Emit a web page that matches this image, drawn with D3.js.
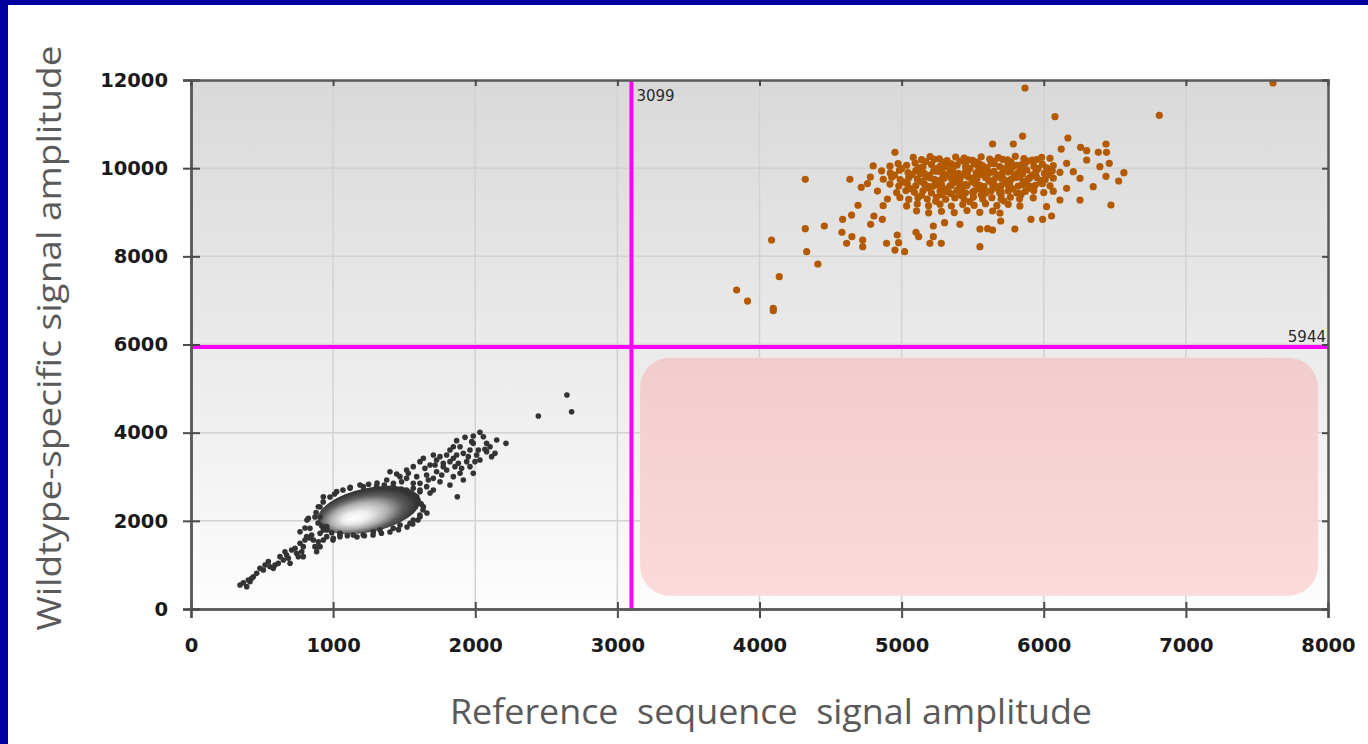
<!DOCTYPE html>
<html>
<head>
<meta charset="utf-8">
<script src="https://cdn.jsdelivr.net/npm/d3@7"></script>
<style>
  body { margin:0; background:#fff; }
  .canvas { width:1368px; height:744px; }
  .tick text { font-family:"DejaVu Sans", sans-serif; font-weight:bold; font-size:19.5px; fill:#1a1a1a; }
</style>
</head>
<body>
<div class="canvas"></div>
<script>
//Data (signal amplitudes)
var xTicks = [0,1000,2000,3000,4000,5000,6000,7000,8000];
var yTicks = [0,2000,4000,6000,8000,10000,12000];
var xThreshold = 3099,
    yThreshold = 5944;
//empty double-negative quadrant box, in amplitude units
var boxX = [3160, 7930],
    boxY = [300, 5700];
//dense wildtype-negative core (centre and half widths)
var coreCenter = [1252, 2246],
    coreRadius = [368, 500];

//wildtype-positive droplets (orange)
var positiveDroplets = [
  [6079,11168],[6813,11198],[5851,10729],[5640,10548],[5786,10548],[6170,10684],[4953,10359],[6438,10548],
  [6259,10472],[6123,10434],[6302,10397],[6384,10359],[6442,10359],[6461,10109],[6564,9898],[6438,9814],
  [6527,9709],[6473,9164],[6255,9278],[6055,8915],[5992,8839],[5910,8839],[5797,8620],[5697,8801],
  [5640,8597],[5605,8627],[5551,8620],[5551,8219],[4322,9746],[4636,9746],[4716,9565],[4693,9157],
  [4585,8839],[4648,8937],[4322,8627],[4456,8688],[4085,8370],[4332,8105],[4411,7826],[4139,7538],
  [3839,7236],[3916,6986],[4097,6820],[4097,6767],[4580,8544],[4650,8446],[4613,8295],[4726,8370],
  [4726,8219],[4782,8726],[4805,8915],[4864,8839],[4894,8295],[4953,8143],[5021,8105],[4969,8484],
  [4979,8310],[5101,8544],[5120,8446],[5199,8295],[5223,8446],[5279,8295],[5223,8688],[5302,8763],
  [5410,8726],[5868,11818],[7613,11932],
  [6161,10109],[6208,9920],[6348,9580],[6161,9542],[6255,9769],[6395,10034],[6302,10185],[6114,9278],[6020,9126],
  [4800,10050],[4780,9800],[4830,9480],[4900,9300],[4870,9150],[4760,9650],
  [5082,10243],[5140,10193],[5200,10263],[5265,10213],[5320,10173],[5380,10253],[5440,10228],[5500,10178],
  [5560,10258],[5620,10203],[5680,10238],[5745,10188],[5800,10268],[5860,10218],[5920,10183],[5985,10248],[6044,10223],
  [4918,10046],[4975,10106],[5035,10066],[5095,10116],[5150,10031],[5210,10081],[5270,10041],[5330,10111],
  [5390,10071],[5450,10026],[5510,10096],[5570,10056],[5630,10106],[5690,10036],[5750,10086],[5810,10066],
  [5870,10116],[5930,10046],[5990,10091],[6067,10061],
  [4859,9940],[4920,9890],[4985,9955],[5045,9900],[5100,9945],[5160,9880],[5225,9935],[5285,9905],
  [5340,9960],[5400,9885],[5465,9930],[5525,9895],[5580,9950],[5640,9910],[5705,9875],[5765,9945],
  [5820,9900],[5880,9960],[5945,9915],[6005,9880],[6060,9940],[6114,9905],
  [4871,9749],[4930,9794],[4990,9739],[5050,9784],[5110,9754],[5170,9799],[5230,9744],[5290,9789],
  [5350,9764],[5410,9734],[5470,9799],[5530,9759],[5590,9789],[5650,9739],[5710,9779],[5770,9749],
  [5830,9804],[5890,9759],[5950,9789],[6010,9744],[6067,9774],
  [4918,9638],[4980,9593],[5040,9648],[5100,9603],[5160,9643],[5220,9588],[5280,9633],[5340,9598],
  [5400,9653],[5460,9608],[5520,9638],[5580,9583],[5640,9628],[5700,9603],[5760,9648],[5820,9593],
  [5880,9633],[5940,9613],[5990,9648],[6044,9598],
  [4965,9447],[5030,9492],[5090,9452],[5150,9487],[5210,9437],[5270,9482],[5330,9457],[5390,9497],
  [5450,9442],[5510,9477],[5570,9452],[5630,9492],[5690,9447],[5750,9482],[5810,9437],[5870,9472],
  [5930,9492],[6000,9447],[6067,9477],
  [4988,9335],[5050,9290],[5115,9330],[5180,9300],[5245,9340],[5310,9295],[5375,9325],[5440,9290],
  [5505,9345],[5570,9300],[5635,9330],[5700,9295],[5765,9340],[5830,9305],[5926,9325],
  [5035,9144],[5110,9189],[5190,9149],[5270,9184],[5350,9139],[5430,9174],[5510,9154],[5590,9194],
  [5670,9149],[5750,9179],[5832,9144],
  [5105,9033],[5190,8988],[5280,9023],[5370,8993],[5460,9038],[5550,8998],[5640,9028],[5692,8983],
  [5170,10150],[5290,10140],[5410,10160],[5530,10135],[5650,10155],[5770,10145],[5890,10160],
  [5000,9990],[5120,10005],[5240,9985],[5360,10000],[5480,9995],[5600,10010],[5720,9985],[5840,10000],[5960,9990],
  [4950,9840],[5075,9855],[5195,9835],[5315,9850],[5435,9845],[5555,9860],[5675,9835],[5795,9850],[5915,9840],[6035,9855],
  [5015,9685],[5135,9700],[5255,9680],[5375,9695],[5495,9690],[5615,9705],[5735,9680],[5855,9695],[5975,9685],
  [5060,9535],[5180,9550],[5300,9530],[5420,9545],[5540,9540],[5660,9555],[5780,9530],[5900,9545],
  [5140,9385],[5280,9400],[5420,9380],[5560,9395],[5700,9390],[5840,9400],
  [5350,10100],[5450,10110],[5550,10095],[5650,10105],[5750,10100],[5850,10090],
  [5250,9925],[5350,9930],[5450,9920],[5550,9935],[5650,9925],[5750,9915],[5850,9930],
  [5200,9780],[5300,9770],[5400,9785],[5500,9775],[5600,9780],[5700,9770],[5800,9785],[5900,9775],
  [5250,9620],[5350,9615],[5450,9625],[5550,9610],[5650,9620],[5750,9615],[5850,9625],
  [5300,9460],[5400,9470],[5500,9455],[5600,9465],[5700,9460],
  [5230,10200],[5470,10190],[5710,10200],[5950,10195],
  [5300,10030],[5540,10040],[5780,10025],[6020,10010],
  [5130,9880],[5370,9875],[5610,9885],[5850,9870],
  [5260,9720],[5500,9730],[5740,9715],[5980,9725],
  [5190,9580],[5430,9590],[5670,9575],[5910,9585],
  [5350,9420],[5590,9430],[5830,9425],
  [5240,9250],[5480,9240],[5720,9255]
];

//wildtype-negative droplets (dark)
var negativeDroplets = [
  [345,544],[392,507],[415,620],[439,733],[403,658],[485,922],[521,998],[556,960],[579,922],[614,1036],
  [626,1187],[673,1225],[697,1036],[708,1338],[743,1263],[767,1490],[779,1300],[814,1641],[837,1830],
  [861,1565],[884,1300],[908,1414],[826,2057],[908,1716],[931,1792],[955,1641],[1001,1603],[1048,1641],
  [1212,1679],[1330,1792],[1471,1905],[1564,2019],[1611,2094],[1611,2397],[1635,2321],[1588,2548],
  [1517,2699],[1423,2760],[1306,2790],[1212,2775],[1119,2737],[1025,2662],[931,2548],[896,2321],
  [908,2094],[955,1868],[1048,1716],[1142,1679],[1283,1754],[1423,1830],[1541,1943],
  [368,597],[427,696],[462,809],[509,885],[544,1074],[591,998],[650,1112],[685,1149],[732,1376],
  [755,1187],[790,1414],[802,1565],[849,1679],[872,1414],[896,1527],[790,1187],[661,1300],[767,1754],[931,1565],
  [1400,3115],[1447,3062],[1517,3153],[1564,3229],[1611,3342],[1635,3418],[1682,3267],[1705,3493],
  [1728,3380],[1775,3304],[1799,3493],[1822,3607],[1846,3418],[1857,3229],[1893,3682],[1916,3531],
  [1940,3342],[1963,3607],[1986,3758],[2010,3493],[2033,3380],[2080,3569],[2104,3682],[1893,3077],
  [1846,3002],[1752,2888],[1705,2699],[1658,2775],[1611,2662],[1564,2851],[1517,2964],[1470,3002],
  [1963,3229],[1799,3153],[1728,3115],[1658,3040],[2033,4008],[1986,3924],[1928,3894],[1869,3819],
  [2216,3758],[2139,3531],[2068,3622],[1874,2548],[2444,4378],[2678,4476],[2645,4855],
  [1377,2926],[1424,2851],[1482,2888],[1529,3077],[1588,3002],[1646,3191],[1670,2926],[1717,3267],
  [1752,3456],[1764,3040],[1822,3342],[1869,3493],[1881,3304],[1904,3191],[1951,3456],[1975,3796],
  [1998,3342],[2022,3607],[2057,3909],[2080,3758],[2115,3456],[2151,3834],[1822,2813],[1916,2926],
  [1611,2851],[1564,2737],[1986,3077],[1705,2964],[1846,3682],[1775,3229],
  [872,2087],[908,2314],[978,2541],[1069,2699],[1189,2813],[1309,2858],[1421,2768],[1520,2654],
  [1597,2473],[1632,2246],[1597,2019],[1520,1860],[1400,1747],[1281,1679],[1168,1633],[1048,1679],
  [957,1792],[894,1951],[816,2019],[802,1837],[837,1611],[887,1406],[999,1565],[1611,2699],[1682,2631],[1660,2178],
  [1250,2830],[1360,2810],[1480,2720],[1560,2580],[1620,2380],[1610,2130],[1560,1930],[1460,1800],
  [1340,1720],[1220,1660],[1100,1660],[990,1730],[920,1880],[880,2190],[930,2430],[1010,2610],[1120,2760]
];

var pageWidth = 1368,
    pageHeight = 744;
var plot = {l:191, r:1328, t:80, b:609};

var svg = d3.select('.canvas')
    .append('svg')
    .attr('width',pageWidth)
    .attr('height',pageHeight);

var x = d3.scaleLinear().domain([0,8000]).range([plot.l,plot.r]);
var y = d3.scaleLinear().domain([0,12000]).range([plot.b,plot.t]);

//gradients
var defs = svg.append('defs');
var bg = defs.append('linearGradient').attr('id','bg').attr('x1',0).attr('y1',0).attr('x2',0).attr('y2',1);
bg.append('stop').attr('offset','0%').attr('stop-color','#d9d9d9');
bg.append('stop').attr('offset','55%').attr('stop-color','#ececec');
bg.append('stop').attr('offset','100%').attr('stop-color','#fdfdfd');
var pink = defs.append('linearGradient').attr('id','pink').attr('x1',0).attr('y1',0).attr('x2',0).attr('y2',1);
pink.append('stop').attr('offset','0%').attr('stop-color','#f1cccc');
pink.append('stop').attr('offset','100%').attr('stop-color','#fcdada');
var core = defs.append('radialGradient').attr('id','core')
    .attr('cx','45%').attr('cy','55%').attr('fx','33%').attr('fy','62%');
core.append('stop').attr('offset','0%').attr('stop-color','#ffffff');
core.append('stop').attr('offset','25%').attr('stop-color','#eeeeee');
core.append('stop').attr('offset','55%').attr('stop-color','#b0b0b0');
core.append('stop').attr('offset','80%').attr('stop-color','#5a5a5a');
core.append('stop').attr('offset','100%').attr('stop-color','#363636');

//blue frame on top and left
svg.append('rect').attr('x',0).attr('y',0).attr('width',pageWidth).attr('height',5).style('fill','#00009e');
svg.append('rect').attr('x',0).attr('y',0).attr('width',8).attr('height',pageHeight).style('fill','#00009e');

//plot background
svg.append('rect')
    .attr('x',plot.l).attr('y',plot.t)
    .attr('width',plot.r-plot.l).attr('height',plot.b-plot.t)
    .style('fill','url(#bg)');

//grid lines
svg.selectAll('.gx').data(xTicks.slice(1,-1)).enter().append('line')
    .attr('x1',function(d){return x(d);}).attr('x2',function(d){return x(d);})
    .attr('y1',plot.t).attr('y2',plot.b)
    .style('stroke','#d2d2d2').style('stroke-width',1.5);
svg.selectAll('.gy').data(yTicks.slice(1,-1)).enter().append('line')
    .attr('x1',plot.l).attr('x2',plot.r)
    .attr('y1',function(d){return y(d);}).attr('y2',function(d){return y(d);})
    .style('stroke','#d2d2d2').style('stroke-width',1.5);

//pink box
svg.append('rect')
    .attr('x',x(boxX[0])).attr('y',y(boxY[1]))
    .attr('width',x(boxX[1])-x(boxX[0])).attr('height',y(boxY[0])-y(boxY[1]))
    .attr('rx',30).attr('ry',30)
    .style('fill','url(#pink)');

//dense core first, speckled droplets drawn over its rim
svg.append('ellipse')
    .attr('cx',x(coreCenter[0])).attr('cy',y(coreCenter[1]))
    .attr('rx',x(coreRadius[0])-x(0)).attr('ry',y(0)-y(coreRadius[1]))
    .attr('transform','rotate(-12,'+x(coreCenter[0])+','+y(coreCenter[1])+')')
    .style('fill','url(#core)');

svg.selectAll('.neg').data(negativeDroplets).enter().append('circle')
    .attr('cx',function(d){return x(d[0]);})
    .attr('cy',function(d){return y(d[1]);})
    .attr('r',2.8)
    .style('fill','#333');

svg.selectAll('.pos').data(positiveDroplets).enter().append('circle')
    .attr('cx',function(d){return x(d[0]);})
    .attr('cy',function(d){return y(d[1]);})
    .attr('r',3.6)
    .style('fill','#b35a00');

//threshold lines
svg.append('line')
    .attr('x1',x(xThreshold)).attr('x2',x(xThreshold))
    .attr('y1',plot.t).attr('y2',plot.b)
    .style('stroke','#ff00ff').style('stroke-width',4);
svg.append('line')
    .attr('x1',plot.l).attr('x2',plot.r)
    .attr('y1',y(yThreshold)).attr('y2',y(yThreshold))
    .style('stroke','#ff00ff').style('stroke-width',4);
svg.append('text')
    .attr('x',x(xThreshold)+5).attr('y',plot.t+21)
    .style('font-family','DejaVu Sans').style('font-size','15px').style('fill','#2a2a2a')
    .text(xThreshold);
svg.append('text')
    .attr('x',plot.r-2).attr('y',y(yThreshold)-5)
    .attr('text-anchor','end')
    .style('font-family','DejaVu Sans').style('font-size','15px').style('fill','#2a2a2a')
    .text(yThreshold);

//axes: outer ticks with labels, plus inner ticks
var fmt = d3.format('d');
svg.append('g').attr('transform','translate(0,'+plot.b+')')
    .call(d3.axisBottom(x).tickValues(xTicks).tickFormat(fmt).tickSize(9).tickPadding(20));
svg.append('g').attr('transform','translate(0,'+plot.b+')')
    .call(d3.axisBottom(x).tickValues(xTicks).tickFormat('').tickSize(-7));
svg.append('g').attr('transform','translate('+plot.l+',0)')
    .call(d3.axisLeft(y).tickValues(yTicks).tickFormat(fmt).tickSize(8).tickPadding(15));
svg.append('g').attr('transform','translate('+plot.l+',0)')
    .call(d3.axisLeft(y).tickValues(yTicks).tickFormat('').tickSize(-9));
svg.append('g').attr('transform','translate(0,'+plot.t+')')
    .call(d3.axisTop(x).tickValues(xTicks).tickFormat('').tickSize(-6));
svg.append('g').attr('transform','translate('+plot.r+',0)')
    .call(d3.axisRight(y).tickValues(yTicks).tickFormat('').tickSize(-6));
svg.selectAll('.domain').style('stroke','#5a5a5a').style('stroke-width',2.5);
svg.selectAll('.tick line').style('stroke','#4a4a4a').style('stroke-width',2);

//axis titles
svg.append('text')
    .attr('x',771).attr('y',724)
    .attr('text-anchor','middle')
    .attr('textLength',642).attr('lengthAdjust','spacingAndGlyphs')
    .style('white-space','pre')
    .style('font-family','Open Sans').style('font-size','35px').style('fill','#5a5a5a')
    .text('Reference  sequence  signal amplitude');
svg.append('text')
    .attr('transform','translate(61,338) rotate(-90)')
    .attr('text-anchor','middle')
    .attr('textLength',585).attr('lengthAdjust','spacingAndGlyphs')
    .style('font-family','Open Sans').style('font-size','33px').style('fill','#5a5a5a')
    .text('Wildtype-specific signal amplitude');
</script>
</body>
</html>
